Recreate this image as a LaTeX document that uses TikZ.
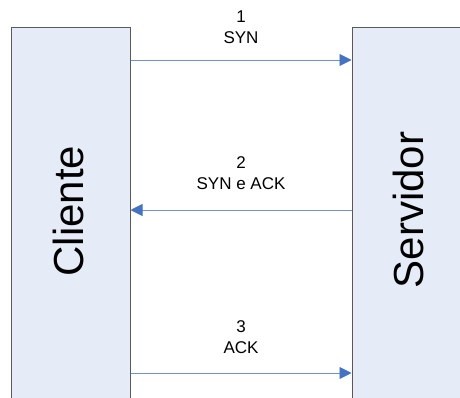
\documentclass[tikz,border=0pt]{standalone}
\usepackage{fontspec}
\setmainfont{Liberation Sans}
\usetikzlibrary{arrows.meta}
\definecolor{hostfill}{HTML}{E6ECF7}
\definecolor{hostedge}{HTML}{5A5A5A}
\definecolor{msgline}{HTML}{6F93D0}
\definecolor{msgtip}{HTML}{4472C4}
\tikzset{
  host/.style={draw=hostedge, line width=1pt, fill=hostfill, inner sep=0pt,
               minimum height=380pt, anchor=north west},
  hostname/.style={font=\fontsize{42}{48}\selectfont, rotate=90, inner sep=0pt},
  msg/.style={draw=msgline, line width=0.9pt,
              -{Triangle[length=12pt, width=12pt, color=msgtip]}},
  msglabel/.style={font=\fontsize{17}{21}\selectfont, align=center, inner sep=0pt, anchor=south}
}
\begin{document}
\begin{tikzpicture}[x=1pt, y=-1pt]
  \useasboundingbox (0,0) rectangle (460,397);
  \clip (0,0) rectangle (460,397);
  % the two hosts
  \node[host, minimum width=118.5pt] (cliente) at (11,27) {};
  \node[host, minimum width=120pt] (servidor) at (351.5,27) {};
  \node[hostname] (clientetxt) at (68.5,211) {Cliente};
  \node[hostname] (servidortxt) at (408,210) {Servidor};
  % handshake rows
  \coordinate (r1) at (0,60);
  \coordinate (r2) at (0,210);
  \coordinate (r3) at (0,373);
  \draw[msg] (cliente.east |- r1) -- node[msglabel, yshift=16pt] (l1) {1\\SYN} (servidor.west |- r1);
  \draw[msg] (servidor.west |- r2) -- node[msglabel, yshift=20pt] (l2) {2\\SYN e ACK} (cliente.east |- r2);
  \draw[msg] (cliente.east |- r3) -- node[msglabel, yshift=19pt] (l3) {3\\ACK} (servidor.west |- r3);
\end{tikzpicture}
\end{document}
